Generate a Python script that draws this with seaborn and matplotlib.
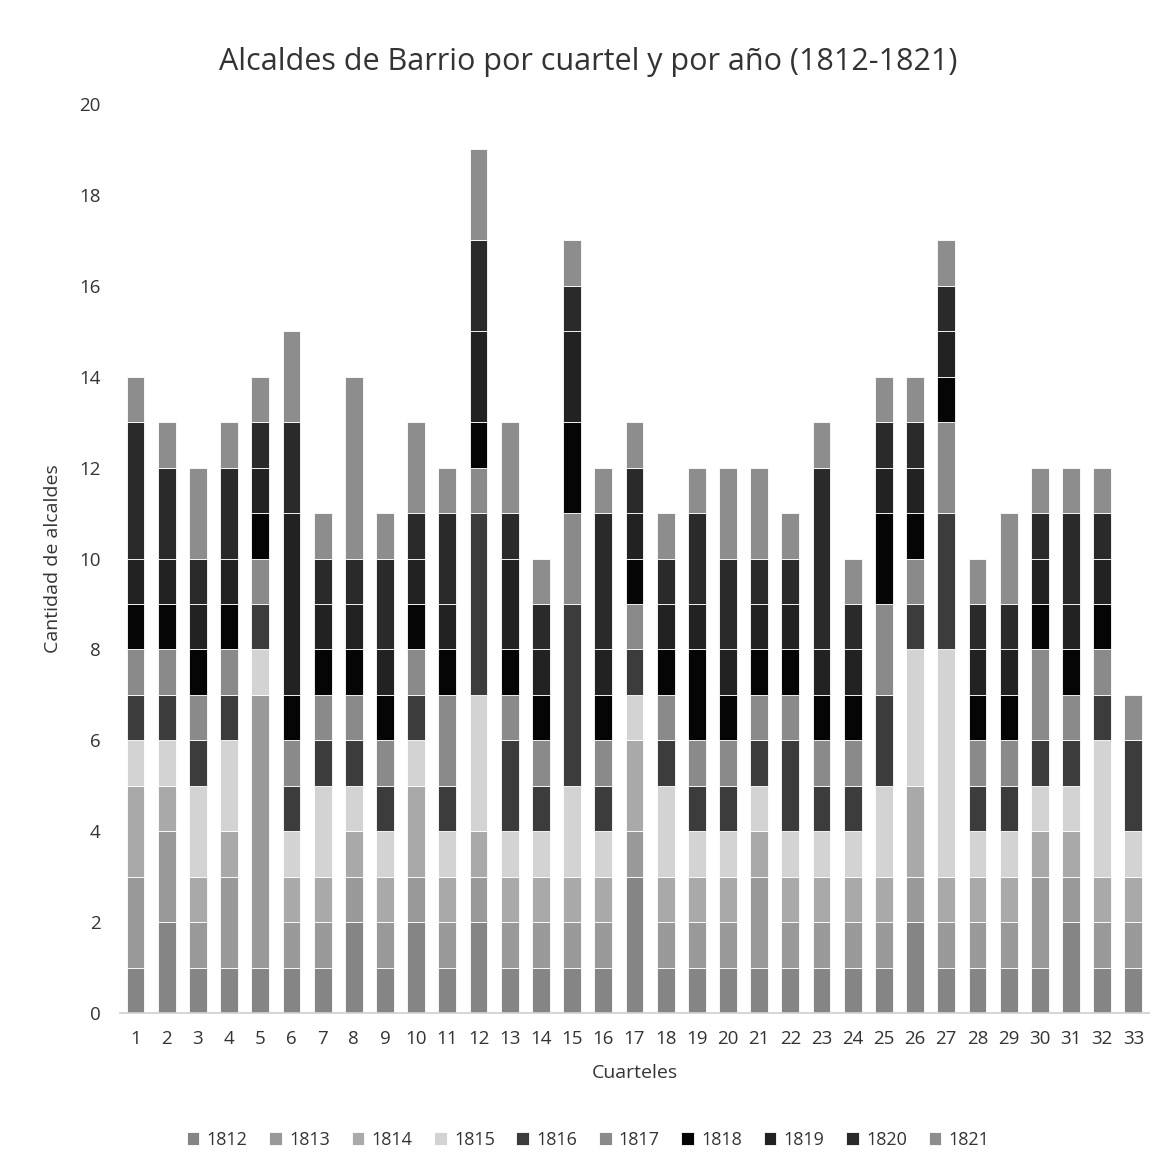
import numpy as np
import pandas as pd
import matplotlib
matplotlib.use("Agg")
import matplotlib.pyplot as plt
import seaborn as sns

# Alcaldes de barrio por cuartel (1..33), one list per year
cuarteles = [str(i) for i in range(1, 34)]
years = ["1812", "1813", "1814", "1815", "1816", "1817", "1818", "1819", "1820", "1821"]

y1812 = [1, 2, 1, 1, 1, 1, 1, 2, 1, 2, 1, 2, 1, 1, 1, 1, 3, 1, 1, 1, 1, 1, 1, 1, 1, 2, 1, 1, 1, 1, 2, 1, 1]
y1813 = [2, 2, 1, 2, 6, 1, 1, 1, 1, 1, 1, 1, 1, 1, 1, 1, 1, 1, 1, 1, 2, 1, 1, 1, 1, 1, 1, 1, 1, 2, 1, 1, 1]
y1814 = [2, 1, 1, 1, 0, 1, 1, 1, 1, 2, 1, 1, 1, 1, 1, 1, 2, 1, 1, 1, 1, 1, 1, 1, 1, 2, 1, 1, 1, 1, 1, 1, 1]
y1815 = [1, 1, 2, 2, 1, 1, 2, 1, 1, 1, 1, 3, 1, 1, 2, 1, 1, 2, 1, 1, 1, 1, 1, 1, 2, 3, 5, 1, 1, 1, 1, 3, 1]
y1816 = [1, 1, 1, 1, 1, 1, 1, 1, 1, 1, 1, 4, 2, 1, 4, 1, 1, 1, 1, 1, 1, 2, 1, 1, 2, 1, 3, 1, 1, 1, 1, 1, 2]
y1817 = [1, 1, 1, 1, 1, 1, 1, 1, 1, 1, 2, 1, 1, 1, 2, 1, 1, 1, 1, 1, 1, 1, 1, 1, 2, 1, 2, 1, 1, 2, 1, 1, 0]
y1818 = [1, 1, 1, 1, 1, 1, 1, 1, 1, 1, 1, 1, 1, 1, 2, 1, 1, 1, 2, 1, 1, 1, 1, 1, 2, 1, 1, 1, 1, 1, 1, 1, 0]
y1819 = [1, 1, 1, 1, 1, 4, 1, 1, 1, 1, 1, 2, 2, 1, 2, 1, 1, 1, 1, 1, 1, 1, 1, 1, 1, 1, 1, 1, 1, 1, 1, 1, 0]
y1820 = [3, 2, 1, 2, 1, 2, 1, 1, 2, 1, 2, 2, 1, 1, 1, 3, 1, 1, 2, 2, 1, 1, 4, 1, 1, 1, 1, 1, 1, 1, 2, 1, 0]
y1821 = [1, 1, 2, 1, 1, 2, 1, 4, 1, 2, 1, 2, 2, 1, 1, 1, 1, 1, 1, 2, 2, 1, 1, 1, 1, 1, 1, 1, 2, 1, 1, 1, 1]

series = [y1812, y1813, y1814, y1815, y1816, y1817, y1818, y1819, y1820, y1821]
colors = ["#858585", "#999999", "#a9a9a9", "#d3d3d3", "#3c3c3c",
          "#8a8a8a", "#050505", "#222222", "#2a2a2a", "#8d8d8d"]

sns.set_theme(style="white")
plt.rcParams["font.family"] = ["Open Sans", "DejaVu Sans"]

fig = plt.figure(figsize=(11.76, 11.74), dpi=100)
ax = fig.add_axes([0.102, 0.1371, 0.875, 0.7743])

bottom = np.zeros(len(cuarteles))
for year, vals, col in zip(years, series, colors):
    sns.barplot(x=cuarteles, y=vals, bottom=bottom, color=col, width=0.57,
                edgecolor="white", linewidth=0.6, label=year, ax=ax)
    bottom = bottom + np.array(vals)

ax.set_ylim(0, 20)
ax.set_yticks(range(0, 21, 2))
ax.tick_params(axis="both", length=0, labelsize=13.5, colors="#333333")
ax.tick_params(axis="x", pad=12)
ax.tick_params(axis="y", pad=14)
for s in ["top", "right", "left"]:
    ax.spines[s].set_visible(False)
ax.spines["bottom"].set_color("#d0d0d0")

ax.set_xlabel("Cuarteles", fontsize=14, color="#333333", labelpad=12)
ax.set_ylabel("Cantidad de alcaldes", fontsize=14, color="#333333", labelpad=12)
fig.suptitle("Alcaldes de Barrio por cuartel y por año (1812-1821)",
             fontsize=22, color="#333333", y=0.96)

handles, labels = ax.get_legend_handles_labels()
if ax.get_legend() is not None:
    ax.get_legend().remove()
fig.legend(handles, labels, loc="center", bbox_to_anchor=(0.5, 0.029), ncol=10,
           frameon=False, fontsize=13, handlelength=0.7, handleheight=0.7,
           handletextpad=0.4, columnspacing=1.2, labelcolor="#333333")

fig.savefig("out.png", dpi=100, facecolor="white")
